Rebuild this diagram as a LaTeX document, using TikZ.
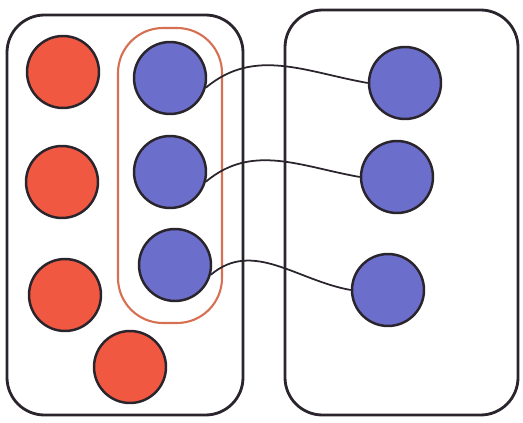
\documentclass[tikz,border=0pt]{standalone}
\usepackage{tikz}
\definecolor{dotred}{RGB}{240,88,66}
\definecolor{dotblue}{RGB}{108,110,204}
\definecolor{inkgray}{RGB}{42,36,44}
\definecolor{subred}{RGB}{214,112,82}

\begin{document}
\begin{tikzpicture}[x=0.02cm, y=-0.02cm,
  dot/.style={circle, draw=inkgray, line width=1.4pt, minimum size=1.44cm, inner sep=0pt},
  setbox/.style={draw=inkgray, line width=1.6pt, rounded corners=0.75cm},
  link/.style={draw=inkgray, line width=1pt}
]
  \useasboundingbox (0,0) rectangle (523,422);

  % Sets
  \draw[setbox] (7,15) rectangle (243,415);
  \draw[setbox] (285,10) rectangle (518,415);
  \draw[subred, line width=1.2pt, rounded corners=0.9cm] (118,28) rectangle (222,323);

  % Left set, red
  \node[dot, fill=dotred] (r1) at (63,72) {};
  \node[dot, fill=dotred] (r2) at (62,182) {};
  \node[dot, fill=dotred] (r3) at (65,295) {};
  \node[dot, fill=dotred] (r4) at (130,367) {};

  % Left set, blue
  \node[dot, fill=dotblue] (b1) at (170,78) {};
  \node[dot, fill=dotblue] (b2) at (170,172) {};
  \node[dot, fill=dotblue] (b3) at (175,265) {};

  % Right set
  \node[dot, fill=dotblue] (c1) at (405,83) {};
  \node[dot, fill=dotblue] (c2) at (397,177) {};
  \node[dot, fill=dotblue] (c3) at (388,290) {};

  % Links
  \draw[link] (b1.-15) to[out=40, in=170] (c1.west);
  \draw[link] (b2.-15) to[out=40, in=170] (c2.west);
  \draw[link] (b3.-15) to[out=40, in=170] (c3.west);
\end{tikzpicture}
\end{document}
